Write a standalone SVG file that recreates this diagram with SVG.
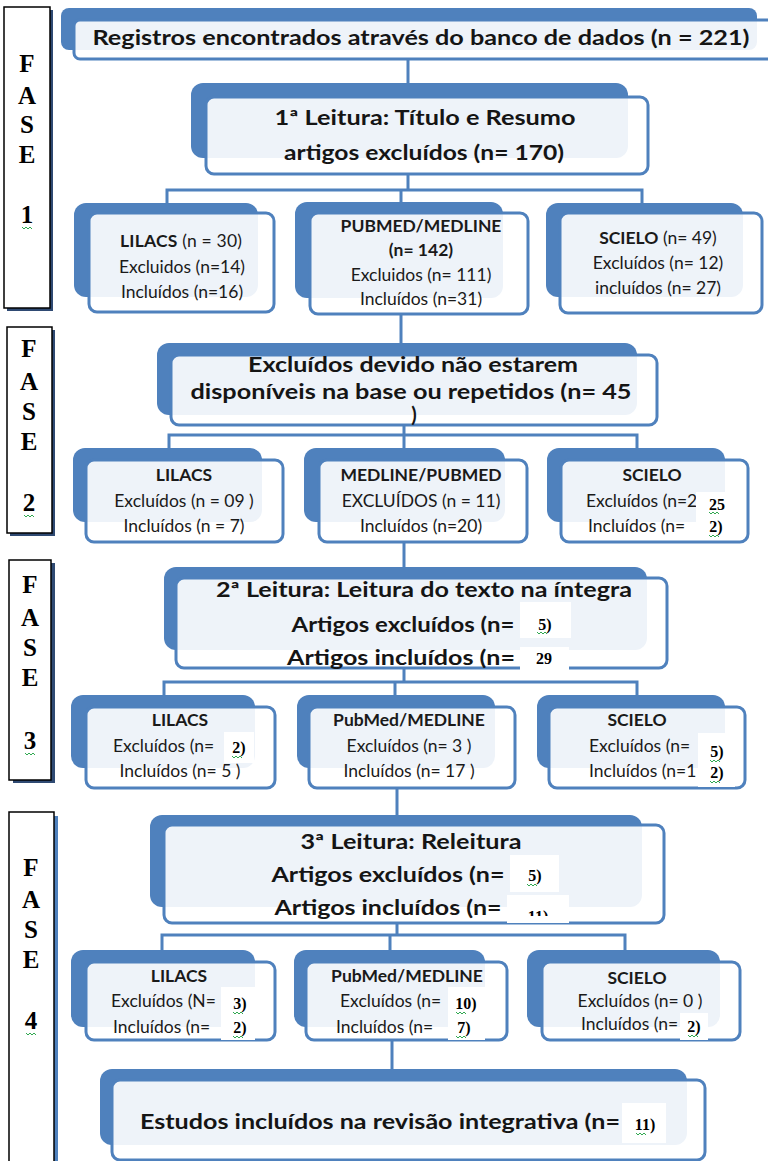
<svg xmlns="http://www.w3.org/2000/svg" width="768" height="1161" viewBox="0 0 768 1161">
<defs>
<style>
.back{fill:#4f81bd}
.front{fill:#fff;fill-opacity:.9;stroke:#4f81bd;stroke-width:3}
.con{stroke:#4f81bd;stroke-width:3;fill:none}
.mt{font-family:Lato,"Open Sans",sans-serif;font-weight:700;font-size:20px;fill:#151515;text-anchor:middle}
.ct{font-family:Lato,"Open Sans",sans-serif;font-size:17.5px;fill:#1a1a1a;text-anchor:middle}
.b{font-weight:700}
.st{text-anchor:start}
.pt{font-family:"Liberation Serif",serif;font-weight:700;font-size:16px;fill:#000;text-anchor:middle}
.patch{fill:#fff}
.fbox{fill:#fff;stroke:#000;stroke-width:1.5}
.fsh{fill:#2f4a73}
.fl{font-family:"Liberation Serif",serif;font-weight:700;font-size:25px;text-anchor:middle;fill:#000}
.sq{fill:none;stroke:#2fa84f;stroke-width:1}
</style>
<path id="sq" class="sq" d="M0,0 l2,2 l2,-2 l2,2 l2,-2 l2,2"/>
<clipPath id="clip11"><rect x="507" y="895" width="62" height="21"/></clipPath>
</defs>
<rect width="768" height="1161" fill="#fff"/>

<!-- FASE labels -->
<g id="fase1">
<rect class="fsh" x="7" y="10" width="46" height="301"/>
<rect class="fbox" x="4" y="7" width="46" height="301"/>
<text class="fl" x="27" y="72">F</text><text class="fl" x="27" y="104">A</text><text class="fl" x="27" y="133">S</text><text class="fl" x="27" y="163">E</text><text class="fl" x="27" y="223">1</text>
<use href="#sq" x="22" y="227"/>
</g>
<g id="fase2">
<rect class="fsh" x="10" y="330" width="45" height="206"/>
<rect class="fbox" x="7" y="327" width="45" height="206"/>
<text class="fl" x="29" y="357">F</text><text class="fl" x="29" y="390">A</text><text class="fl" x="29" y="420">S</text><text class="fl" x="29" y="450">E</text><text class="fl" x="29" y="511">2</text>
<use href="#sq" x="24" y="515"/>
</g>
<g id="fase3">
<rect class="fsh" x="13" y="563" width="42" height="220"/>
<rect class="fbox" x="9" y="560" width="42" height="220"/>
<text class="fl" x="30" y="593">F</text><text class="fl" x="30" y="626">A</text><text class="fl" x="30" y="656">S</text><text class="fl" x="30" y="686">E</text><text class="fl" x="30" y="749">3</text>
<use href="#sq" x="25" y="753"/>
</g>
<g id="fase4">
<rect class="back" x="54" y="816" width="4" height="350"/>
<rect class="fbox" x="9" y="812" width="45" height="360"/>
<text class="fl" x="31" y="876">F</text><text class="fl" x="31" y="908">A</text><text class="fl" x="31" y="938">S</text><text class="fl" x="31" y="968">E</text><text class="fl" x="31" y="1029">4</text>
<use href="#sq" x="26" y="1033"/>
</g>

<!-- connectors -->
<g id="connectors">
<path class="con" d="M408,58 V83"/>
<path class="con" d="M408,174 V190 M167,205 V190 H642 V205 M401,190 V205"/>
<path class="con" d="M401,314 V345"/>
<path class="con" d="M404,425 V435 M169,450 V435 H637 V450 M404,435 V450"/>
<path class="con" d="M404,542 V569"/>
<path class="con" d="M404,668 V682 M164,697 V682 H637 V697 M395,682 V697"/>
<path class="con" d="M397,788 V817"/>
<path class="con" d="M397,923 V935 M162,950 V935 H625 V950 M390,935 V950"/>
<path class="con" d="M392,1040 V1070"/>
</g>

<!-- top node -->
<g id="n-registros">
<rect class="back" x="61" y="8" width="696" height="42" rx="8"/>
<rect class="front" x="74" y="20" width="705" height="39" rx="6"/>
<text class="mt" x="421" y="45" textLength="657" lengthAdjust="spacingAndGlyphs">Registros encontrados através do banco de dados  (n = 221)</text>
</g>

<g id="n-leitura1">
<rect class="back" x="191" y="83" width="437" height="75" rx="12"/>
<rect class="front" x="206" y="97" width="442" height="77" rx="8"/>
<text class="mt" x="425" y="125" textLength="301" lengthAdjust="spacingAndGlyphs">1ª Leitura: Título e Resumo</text>
<text class="mt" x="424" y="160" textLength="280" lengthAdjust="spacingAndGlyphs">artigos excluídos (n= 170)</text>
</g>

<!-- row 1 -->
<g id="n-r1-lilacs">
<rect class="back" x="74" y="203" width="184" height="94" rx="12"/>
<rect class="front" x="89" y="213" width="185" height="99" rx="8"/>
<text class="ct" x="181" y="247" textLength="122"><tspan class="b">LILACS</tspan> (n = 30)</text>
<text class="ct" x="182" y="273">Excluidos (n=14)</text>
<text class="ct" x="182" y="298">Incluídos (n=16)</text>
</g>
<g id="n-r1-pubmed">
<rect class="back" x="295" y="202" width="208" height="96" rx="12"/>
<rect class="front" x="310" y="213" width="218" height="101" rx="8"/>
<text class="ct b" x="421" y="232">PUBMED/MEDLINE</text>
<text class="ct b" x="421" y="256">(n= 142)</text>
<text class="ct" x="421" y="281">Excluidos (n= 111)</text>
<text class="ct" x="421" y="305">Incluídos (n=31)</text>
</g>
<g id="n-r1-scielo">
<rect class="back" x="546" y="203" width="197" height="94" rx="12"/>
<rect class="front" x="560" y="213" width="202" height="100" rx="8"/>
<text class="ct" x="658" y="244"><tspan class="b">SCIELO</tspan> (n= 49)</text>
<text class="ct" x="658" y="269">Excluídos  (n= 12)</text>
<text class="ct" x="658" y="294">incluídos (n= 27)</text>
</g>

<!-- row 2 -->
<g id="n-excluidos">
<rect class="back" x="157" y="343" width="480" height="72" rx="12"/>
<rect class="front" x="171" y="355" width="486" height="70" rx="8"/>
<text class="mt" x="413" y="372" textLength="330" lengthAdjust="spacingAndGlyphs">Excluídos devido não estarem</text>
<text class="mt" x="411" y="399" textLength="441" lengthAdjust="spacingAndGlyphs">disponíveis na base ou repetidos (n= 45</text>
<text class="mt" x="414" y="422">)</text>
</g>
<g id="n-r2-lilacs">
<rect class="back" x="73" y="448" width="189" height="74" rx="12"/>
<rect class="front" x="86" y="460" width="197" height="82" rx="8"/>
<text class="ct b" x="184" y="481">LILACS</text>
<text class="ct" x="184" y="507">Excluídos  (n = 09 )</text>
<text class="ct" x="184" y="532">Incluídos (n = 7)</text>
</g>
<g id="n-r2-medline">
<rect class="back" x="304" y="448" width="201" height="74" rx="12"/>
<rect class="front" x="319" y="460" width="208" height="82" rx="8"/>
<text class="ct b" x="421" y="481">MEDLINE/PUBMED</text>
<text class="ct" x="421" y="507">EXCLUÍDOS (n = 11)</text>
<text class="ct" x="421" y="532">Incluídos (n=20)</text>
</g>
<g id="n-r2-scielo">
<rect class="back" x="547" y="448" width="178" height="74" rx="12"/>
<rect class="front" x="561" y="460" width="187" height="82" rx="8"/>
<text class="ct b" x="652" y="481">SCIELO</text>
<text class="ct st" x="586" y="507">Excluídos (n=2</text>
<text class="ct st" x="588" y="532">Incluídos  (n=</text>
<rect class="patch" x="696" y="492" width="40" height="48"/>
<text class="pt" x="717" y="510">25</text>
<text class="pt" x="716" y="532">2)</text>
<use href="#sq" x="709" y="512"/><use href="#sq" x="709" y="535"/>
</g>

<!-- row 3 -->
<g id="n-leitura2">
<rect class="back" x="164" y="567" width="483" height="83" rx="12"/>
<rect class="front" x="176" y="578" width="491" height="90" rx="8"/>
<text class="mt" x="424" y="597" textLength="416" lengthAdjust="spacingAndGlyphs">2ª  Leitura: Leitura do texto na íntegra</text>
<text class="mt" x="403" y="632" textLength="223" lengthAdjust="spacingAndGlyphs">Artigos excluídos (n=</text>
<text class="mt" x="401" y="665" textLength="228" lengthAdjust="spacingAndGlyphs">Artigos incluídos (n=</text>
<rect class="patch" x="520" y="602" width="51" height="36"/>
<text class="pt" x="545" y="630">5)</text>
<use href="#sq" x="537" y="632"/>
<rect class="patch" x="520" y="647" width="49" height="23"/>
<text class="pt" x="544" y="664">29</text>
</g>
<g id="n-r3-lilacs">
<rect class="back" x="71" y="695" width="184" height="73" rx="12"/>
<rect class="front" x="86" y="707" width="189" height="81" rx="8"/>
<text class="ct b" x="180" y="726">LILACS</text>
<text class="ct st" x="113" y="752">Excluídos (n=</text>
<text class="ct" x="180" y="777">Incluídos (n= 5 )</text>
<rect class="patch" x="224" y="732" width="30" height="31"/>
<text class="pt" x="239" y="753">2)</text>
<use href="#sq" x="232" y="756"/>
</g>
<g id="n-r3-pubmed">
<rect class="back" x="297" y="695" width="198" height="73" rx="12"/>
<rect class="front" x="309" y="707" width="206" height="81" rx="8"/>
<text class="ct b" x="409" y="726">PubMed/MEDLINE</text>
<text class="ct" x="409" y="752">Excluídos (n= 3 )</text>
<text class="ct" x="409" y="777">Incluídos (n= 17 )</text>
</g>
<g id="n-r3-scielo">
<rect class="back" x="537" y="695" width="188" height="73" rx="12"/>
<rect class="front" x="549" y="707" width="196" height="81" rx="8"/>
<text class="ct b" x="637" y="726">SCIELO</text>
<text class="ct st" x="589" y="752">Excluídos (n=</text>
<text class="ct st" x="589" y="777">Incluídos (n=1</text>
<rect class="patch" x="698" y="733" width="37" height="54"/>
<text class="pt" x="717" y="757">5)</text>
<text class="pt" x="717" y="778">2)</text>
<use href="#sq" x="710" y="760"/><use href="#sq" x="710" y="781"/>
</g>

<!-- row 4 -->
<g id="n-leitura3">
<rect class="back" x="150" y="815" width="492" height="92" rx="12"/>
<rect class="front" x="164" y="825" width="500" height="98" rx="8"/>
<text class="mt" x="411" y="849" textLength="221" lengthAdjust="spacingAndGlyphs">3ª Leitura: Releitura</text>
<text class="mt" x="388" y="882" textLength="233" lengthAdjust="spacingAndGlyphs">Artigos excluídos (n=</text>
<text class="mt" x="388" y="915" textLength="227" lengthAdjust="spacingAndGlyphs">Artigos incluídos (n=</text>
<rect class="patch" x="510" y="855" width="49" height="37"/>
<text class="pt" x="535" y="881">5)</text>
<use href="#sq" x="527" y="884"/>
<rect class="patch" x="507" y="895" width="62" height="28"/>
<text class="pt" x="538" y="922" clip-path="url(#clip11)">11)</text>
</g>
<g id="n-r4-lilacs">
<rect class="back" x="71" y="950" width="184" height="77" rx="12"/>
<rect class="front" x="86" y="962" width="189" height="78" rx="8"/>
<text class="ct b" x="179" y="982">LILACS</text>
<text class="ct st" x="111" y="1007">Excluídos (N=</text>
<text class="ct st" x="113" y="1033">Incluídos (n=</text>
<rect class="patch" x="221" y="987" width="34" height="53"/>
<text class="pt" x="240" y="1009">3)</text>
<text class="pt" x="240" y="1033">2)</text>
<use href="#sq" x="233" y="1012"/><use href="#sq" x="233" y="1036"/>
</g>
<g id="n-r4-pubmed">
<rect class="back" x="294" y="950" width="191" height="77" rx="12"/>
<rect class="front" x="306" y="962" width="201" height="78" rx="8"/>
<text class="ct b" x="407" y="982">PubMed/MEDLINE</text>
<text class="ct st" x="340" y="1007">Excluídos (n=</text>
<text class="ct st" x="336" y="1033">Incluídos (n=</text>
<rect class="patch" x="448" y="987" width="37" height="53"/>
<text class="pt" x="466" y="1009">10)</text>
<text class="pt" x="464" y="1033">7)</text>
<use href="#sq" x="456" y="1012"/><use href="#sq" x="456" y="1036"/>
</g>
<g id="n-r4-scielo">
<rect class="back" x="527" y="950" width="193" height="77" rx="12"/>
<rect class="front" x="542" y="962" width="198" height="78" rx="8"/>
<text class="ct b" x="637" y="984" font-size="16">SCIELO</text>
<text class="ct" x="640" y="1007" font-size="16.5">Excluídos (n= 0 )</text>
<text class="ct st" x="581" y="1030" font-size="16.5">Incluídos (n=</text>
<rect class="patch" x="680" y="1013" width="28" height="27"/>
<text class="pt" x="694" y="1032">2)</text>
<use href="#sq" x="688" y="1035"/>
</g>

<!-- final -->
<g id="n-final">
<rect class="back" x="100" y="1069" width="587" height="76" rx="12"/>
<rect class="front" x="112" y="1080" width="593" height="80" rx="8"/>
<text class="mt st" x="140" y="1129" textLength="480" lengthAdjust="spacingAndGlyphs">Estudos incluídos  na revisão integrativa (n=</text>
<rect class="patch" x="622" y="1103" width="44" height="40"/>
<text class="pt" x="645" y="1130">11)</text>
<use href="#sq" x="636" y="1133"/>
</g>
</svg>
